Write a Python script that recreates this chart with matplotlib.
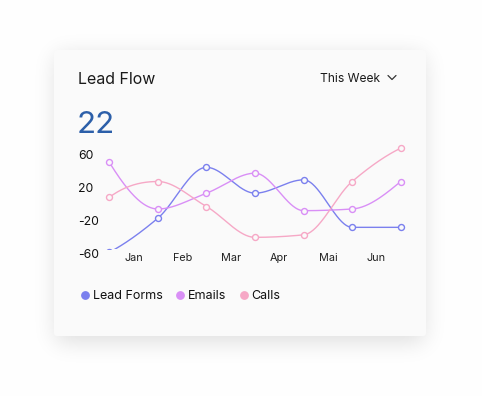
import math
import numpy as np
import matplotlib
matplotlib.use("Agg")
import matplotlib.pyplot as plt
from matplotlib.lines import Line2D
from matplotlib.patches import FancyBboxPatch

# ---------------- data ----------------
months = ["Jan", "Feb", "Mar", "Apr", "Mai", "Jun"]
lead_forms = [-58, -17, 44, 13, 29, -28, -28]
emails = [50, -6, 13, 37, -8, -6, 27]
calls = [8, 27, -3, -40, -37, 27, 67]
series_names = ["Lead Forms", "Emails", "Calls"]
y_ticks = [-60, -20, 20, 60]
title = "Lead Flow"
period = "This Week"
total = "22"

colors = ["#7b80ee", "#d98ff6", "#f6a8c6"]

plt.rcParams["font.family"] = ["Inter", "DejaVu Sans"]

W, H = 482, 396
fig = plt.figure(figsize=(W / 100, H / 100), dpi=100)
fig.patch.set_facecolor("white")


def fx(px):
    return px / W


def fy(py):
    return 1 - py / H


# ---------------- background card with soft shadow ----------------
bg = fig.add_axes([0, 0, 1, 1])
bg.set_xlim(0, W)
bg.set_ylim(H, 0)
bg.axis("off")
erf = np.vectorize(math.erf)
sig = 11.0
L, R, T, B = 56, 424, 55, 342
xs_ = np.arange(W) + 0.5
ys_ = np.arange(H) + 0.5
gx = 0.5 * (erf((xs_ - L) / (sig * np.sqrt(2))) - erf((xs_ - R) / (sig * np.sqrt(2))))
gy = 0.5 * (erf((ys_ - T) / (sig * np.sqrt(2))) - erf((ys_ - B) / (sig * np.sqrt(2))))
shade = 0.13 * np.outer(gy, gx)
img = np.ones((H, W, 3)) * (1 - shade[..., None])
bg.imshow(img, extent=(0, W, H, 0), interpolation="bilinear", aspect="auto", zorder=0)
card = FancyBboxPatch((54, 50), 372, 286, boxstyle="round,pad=0,rounding_size=3",
                      fc="#fafafa", ec="none", zorder=1)
bg.add_patch(card)

# chevron next to "This Week"
bg.plot([388, 392, 396], [75.5, 79.5, 75.5], color="#333333", lw=0.9, zorder=2,
        solid_capstyle="round", solid_joinstyle="round")

# ---------------- texts ----------------
fig.text(fx(78), fy(84.3), title, fontsize=11.5, color="#1a1a1a", va="baseline", ha="left")
fig.text(fx(320), fy(82.3), period, fontsize=8.7, color="#1a1a1a", va="baseline", ha="left")
fig.text(fx(77), fy(133), total, fontsize=22.5, color="#2c5fa9", va="baseline", ha="left")


# ---------------- monotone cubic interpolation ----------------
def pchip_curve(y, n=60):
    y = np.asarray(y, dtype=float)
    k = len(y)
    delta = np.diff(y)
    m = np.zeros(k)
    for i in range(1, k - 1):
        if delta[i - 1] * delta[i] > 0:
            m[i] = 2.0 / (1.0 / delta[i - 1] + 1.0 / delta[i])
    for idx, (d0, d1) in ((0, (delta[0], delta[1])), (k - 1, (delta[-1], delta[-2]))):
        v = (3 * d0 - d1) / 2.0
        if np.sign(v) != np.sign(d0):
            v = 0.0
        elif np.sign(d0) != np.sign(d1) and abs(v) > abs(3 * d0):
            v = 3 * d0
        m[idx] = v
    xs, ys = [], []
    for i in range(k - 1):
        t = np.linspace(0, 1, n, endpoint=(i == k - 2))
        h00 = 2 * t**3 - 3 * t**2 + 1
        h10 = t**3 - 2 * t**2 + t
        h01 = -2 * t**3 + 3 * t**2
        h11 = t**3 - t**2
        xs.append(i + t)
        ys.append(h00 * y[i] + h10 * m[i] + h01 * y[i + 1] + h11 * m[i + 1])
    return np.concatenate(xs), np.concatenate(ys)


# ---------------- main plot ----------------
px_step = 48.57
x0_px = 109.3
ax_left, ax_right, ax_top, ax_bot = 100, 412, 140, 249
ax = fig.add_axes([fx(ax_left), fy(ax_bot), (ax_right - ax_left) / W, (ax_bot - ax_top) / H])
ax.set_xlim((ax_left - x0_px) / px_step, (ax_right - x0_px) / px_step)
unit = 100 / 120.0
ax.set_ylim(60 - (ax_bot - 154) / unit, 60 + (154 - ax_top) / unit)
ax.patch.set_alpha(0)
for s in ax.spines.values():
    s.set_visible(False)

for vals, col in zip([lead_forms, emails, calls], colors):
    cx, cy = pchip_curve(vals)
    ax.plot(cx, cy, color=col, lw=1.0, zorder=3)
    ax.plot(np.arange(len(vals)), vals, ls="none", marker="o", ms=4.3, mfc="#fafafa",
            mec=col, mew=1.0, zorder=4)

ax.set_xticks(np.arange(len(months)) + 0.5)
ax.set_xticklabels(months, fontsize=7.8, color="#222222")
ax.tick_params(axis="x", length=0, pad=3)
ax.set_yticks([])

# y labels on an aligned axis with the full range
ay = fig.add_axes([fx(ax_left), fy(262), (ax_right - ax_left) / W, (262 - ax_top) / H])
ay.set_xlim(ax.get_xlim())
ay.set_ylim(60 - (262 - 154) / unit, 60 + (154 - ax_top) / unit)
ay.patch.set_alpha(0)
for s in ay.spines.values():
    s.set_visible(False)
ay.set_xticks([])
ay.set_yticks(y_ticks)
ay.set_yticklabels([str(v) for v in y_ticks], fontsize=8.8, color="#111111")
ay.tick_params(axis="y", length=0, pad=(ax_left - 78) * 0.72)
for lab in ay.get_yticklabels():
    lab.set_horizontalalignment("left")

# ---------------- legend ----------------
handles = [Line2D([], [], ls="none", marker="o", ms=5.3, mfc=c, mec=c) for c in colors]
leg = fig.legend(handles, series_names, loc="center left", bbox_to_anchor=(fx(81.5), fy(296)),
                 ncol=3, frameon=False, fontsize=9, handlelength=0.6, handletextpad=0.35,
                 columnspacing=1.05, borderaxespad=0, borderpad=0)
for t in leg.get_texts():
    t.set_color("#111111")

fig.savefig("out.png", dpi=100, facecolor="white")
